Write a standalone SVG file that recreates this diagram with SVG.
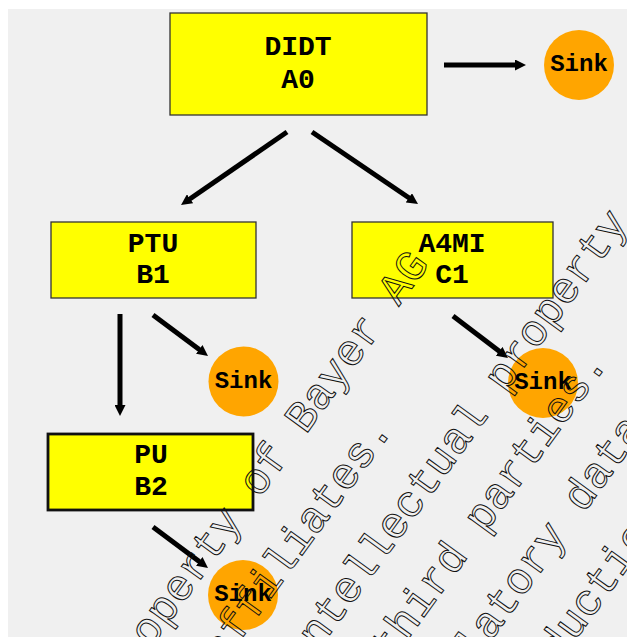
<svg xmlns="http://www.w3.org/2000/svg" width="627" height="637" viewBox="0 0 627 637">
  <style>
    .box { fill: #ffff00; stroke: #333333; stroke-width: 1.3; }
    .box-strong { fill: #ffff00; stroke: #111111; stroke-width: 2.8; }
    .sink { fill: #ffa500; }
    .label { font-family: "Liberation Mono", "Courier New", monospace; font-weight: bold; font-size: 28px; fill: #000000; text-anchor: middle; }
    .sink-label { font-family: "Liberation Mono", "Courier New", monospace; font-weight: bold; font-size: 24px; fill: #000000; text-anchor: middle; }
    .edge { fill: none; stroke: #000000; stroke-width: 5; }
    .mark { font-family: "Liberation Mono", "Courier New", monospace; font-size: 44px; fill: none; stroke: #111111; stroke-width: 1; }
  </style>
  <defs>
    <marker id="arrow" markerUnits="userSpaceOnUse" viewBox="0 0 11 11" markerWidth="11" markerHeight="11" refX="3" refY="5.5" orient="auto">
      <path d="M0,0 L11,5.5 L0,11 z" fill="#000000"/>
    </marker>
  </defs>

  <!-- canvas -->
  <rect x="0" y="0" width="627" height="637" fill="#ffffff"/>
  <rect x="8" y="9" width="619" height="628" fill="#f0f0f0"/>

  <!-- connectors -->
  <g id="connectors">
    <line class="edge" x1="444" y1="65" x2="518" y2="65" marker-end="url(#arrow)"/>
    <line class="edge" x1="287" y1="132" x2="187.6" y2="200.5" marker-end="url(#arrow)"/>
    <line class="edge" x1="312" y1="132" x2="411.4" y2="199.5" marker-end="url(#arrow)"/>
    <line class="edge" x1="120" y1="314" x2="120" y2="408" marker-end="url(#arrow)"/>
    <line class="edge" x1="153" y1="315" x2="201.6" y2="351.2" marker-end="url(#arrow)"/>
    <line class="edge" x1="453" y1="316" x2="501.6" y2="353.1" marker-end="url(#arrow)"/>
    <line class="edge" x1="153" y1="527" x2="201.6" y2="563.2" marker-end="url(#arrow)"/>
  </g>

  <!-- nodes -->
  <g id="node-didt">
    <rect class="box" x="170" y="13" width="257" height="102"/>
    <text class="label" x="298" y="55">DIDT</text>
    <text class="label" x="298" y="88">A0</text>
  </g>
  <g id="node-ptu">
    <rect class="box" x="51" y="222" width="205" height="76"/>
    <text class="label" x="153" y="252">PTU</text>
    <text class="label" x="153" y="283">B1</text>
  </g>
  <g id="node-a4mi">
    <rect class="box" x="352" y="222" width="201" height="76"/>
    <text class="label" x="452" y="252">A4MI</text>
    <text class="label" x="452" y="283">C1</text>
  </g>
  <g id="node-pu">
    <rect class="box-strong" x="48" y="434" width="205" height="76"/>
    <text class="label" x="151" y="463">PU</text>
    <text class="label" x="151" y="495">B2</text>
  </g>
  <g id="sink-a0">
    <circle class="sink" cx="579" cy="65" r="35"/>
    <text class="sink-label" x="579" y="71">Sink</text>
  </g>
  <g id="sink-b1">
    <circle class="sink" cx="243.5" cy="381.5" r="35"/>
    <text class="sink-label" x="243.5" y="388">Sink</text>
  </g>
  <g id="sink-c1">
    <circle class="sink" cx="543" cy="383" r="35"/>
    <text class="sink-label" x="543" y="389">Sink</text>
  </g>
  <g id="sink-b2">
    <circle class="sink" cx="243" cy="595" r="35"/>
    <text class="sink-label" x="243" y="601">Sink</text>
  </g>

  <!-- diagonal outlined notice -->
  <g id="notice" transform="rotate(-54)">
    <text class="mark" x="-489" y="503">property of Bayer AG</text>
    <text class="mark" x="-407" y="571">affiliates.</text>
    <text class="mark" x="-365" y="640">intellectual property</text>
    <text class="mark" x="-306" y="706">third parties.</text>
    <text class="mark" x="-363" y="774">regulatory data</text>
    <text class="mark" x="-340" y="842">reproduction</text>
  </g>
</svg>
